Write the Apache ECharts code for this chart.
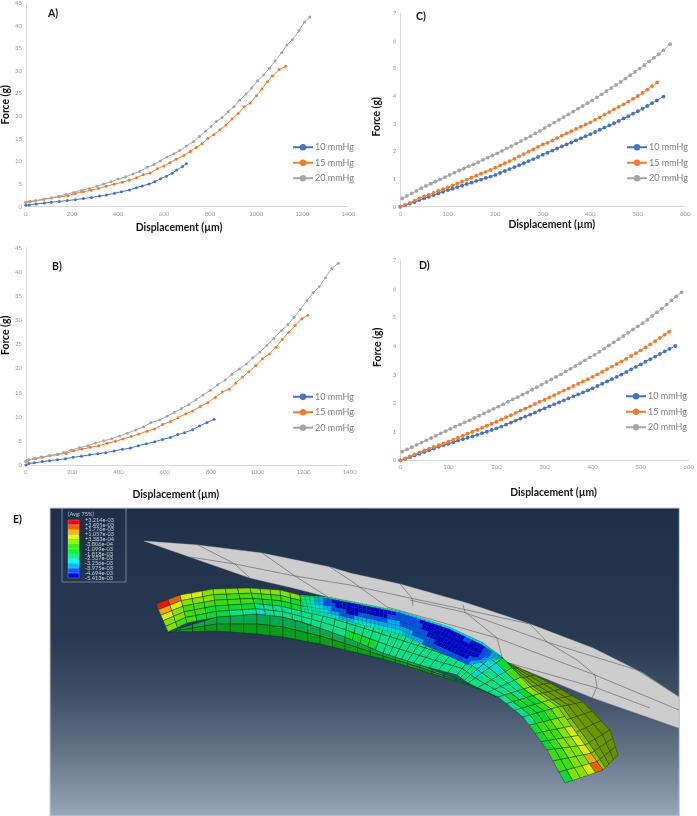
<!DOCTYPE html>
<html><head><meta charset="utf-8">
<style>html,body{margin:0;padding:0;background:#fff}#c{width:697px;height:816px}</style>
<script src="https://cdn.jsdelivr.net/npm/echarts@6/dist/echarts.min.js"></script>
</head><body><div id="c"></div>
<script>
const seriesNames=['10 mmHg','15 mmHg','20 mmHg'];
const seriesColors=['#4472C4','#ED7D31','#A5A5A5'];
const panelLabels=['A)','B)','C)','D)','E)'];
const xName='Displacement (µm)', yName='Force (g)';

const a10=[[0,.3],[15,.4],[45,.6],[80,.8],[110,1],[145,1.15],[180,1.35],[215,1.55],[250,1.8],[285,2.05],[320,2.35],[350,2.6],[385,2.95],[415,3.3],[450,3.7],[480,4.2],[505,4.6],[535,5.0],[560,5.5],[585,6.2],[610,6.75],[635,7.4],[655,8.1],[680,8.9],[697,9.5]];
const a15=[[0,1],[20,1.15],[42,1.3],[78,1.7],[111,1.9],[145,2.2],[183,2.4],[214,2.9],[250,3.3],[284,3.65],[315,4],[348,4.5],[384,5],[419,5.4],[449,5.85],[481,6.4],[510,7.1],[540,7.45],[571,8.4],[599,9],[625,9.7],[653,10.5],[686,11.3],[714,12.2],[740,13.1],[765,13.9],[790,15.05],[816,15.9],[843,17],[869,18.05],[895,19.4],[922,20.6],[948,22.1],[974,22.9],[1001,24.5],[1025,26],[1049,27.6],[1071,28.9],[1100,30.3],[1128,31]];
const a20=[[0,.95],[13,1.1],[42,1.3],[78,1.6],[111,2],[142,2.3],[174,2.7],[207,3.15],[240,3.6],[275,4],[308,4.5],[337,5],[370,5.5],[401,6.1],[433,6.6],[465,7.2],[494,7.8],[527,8.7],[557,9.3],[584,10.1],[613,11],[643,11.7],[668,12.4],[697,13.4],[728,14.4],[754,15.5],[780,16.7],[804,17.7],[827,18.8],[852,19.7],[878,21],[904,22.1],[928,23.5],[956,24.9],[980,26.2],[1006,27.8],[1032,29.1],[1058,30.6],[1082,32.2],[1110,34],[1133,35.7],[1157,36.9],[1186,38.9],[1210,40.8],[1233,41.9]];

const b10=[[0,0],[13,.3],[37,.45],[71,.7],[102,.9],[137,1.1],[171,1.3],[204,1.6],[240,1.8],[276,2.1],[311,2.35],[345,2.55],[381,2.9],[417,3.25],[452,3.5],[486,4],[521,4.4],[557,4.8],[591,5.3],[625,5.7],[656,6.3],[686,6.7],[721,7.3],[751,8.1],[783,8.8],[814,9.5]];
const b15=[[0,.7],[3,.9],[13,1.1],[42,1.3],[71,1.6],[104,1.9],[138,2.2],[174,2.4],[207,2.95],[243,3.3],[279,3.65],[315,4],[351,4.5],[387,4.9],[420,5.4],[455,5.9],[488,6.4],[524,7],[557,7.45],[591,8.4],[625,9],[658,9.8],[691,10.6],[721,11.2],[754,12.1],[787,12.9],[819,14],[849,15.1],[879,15.7],[908,17],[937,18.2],[964,19.3],[994,20.6],[1023,22],[1052,23],[1081,24.4],[1108,26],[1137,27.5],[1164,28.9],[1193,30.3],[1219,31]];
const b20=[[0,.7],[9,1],[35,1.3],[66,1.65],[102,1.95],[135,2.2],[164,2.6],[196,3.1],[232,3.6],[268,4],[301,4.55],[337,5],[371,5.45],[406,6],[439,6.6],[475,7.25],[509,7.9],[541,8.8],[578,9.3],[610,10.1],[642,10.9],[673,11.7],[704,12.5],[735,13.5],[766,14.5],[799,15.5],[829,16.6],[862,17.6],[891,18.8],[922,19.9],[953,20.9],[981,22.2],[1012,23.4],[1042,24.8],[1072,26.2],[1104,27.8],[1133,29.1],[1160,30.6],[1186,32.2],[1215,34],[1242,35.7],[1268,36.9],[1295,38.8],[1323,40.7],[1351,41.8]];

const c10=[[0,0],[10,.05],[20,.11],[30,.17],[40,.24],[50,.3],[60,.36],[70,.42],[80,.48],[90,.54],[100,.6],[110,.65],[120,.71],[130,.76],[140,.82],[150,.87],[160,.93],[170,.98],[180,1.04],[190,1.09],[200,1.15],[210,1.22],[220,1.29],[230,1.36],[240,1.43],[250,1.5],[260,1.57],[270,1.65],[280,1.72],[290,1.8],[300,1.88],[310,1.95],[320,2.03],[330,2.1],[340,2.18],[350,2.25],[360,2.32],[370,2.4],[380,2.47],[390,2.55],[400,2.62],[410,2.7],[420,2.78],[430,2.86],[440,2.94],[450,3.02],[460,3.1],[470,3.19],[480,3.27],[490,3.36],[500,3.45],[510,3.54],[520,3.64],[530,3.74],[540,3.84],[554,3.98]];
const c15=[[0,0],[10,.07],[20,.14],[30,.22],[40,.3],[50,.37],[60,.43],[70,.5],[80,.57],[90,.63],[100,.7],[110,.77],[120,.84],[130,.91],[140,.98],[150,1.05],[160,1.12],[170,1.19],[180,1.26],[190,1.33],[200,1.41],[210,1.49],[220,1.57],[230,1.65],[240,1.73],[250,1.82],[260,1.9],[270,1.99],[280,2.07],[290,2.16],[300,2.25],[310,2.31],[320,2.39],[330,2.48],[340,2.57],[350,2.65],[360,2.73],[370,2.81],[380,2.89],[390,2.97],[400,3.05],[410,3.14],[420,3.23],[430,3.33],[440,3.42],[450,3.52],[460,3.61],[470,3.7],[480,3.8],[490,3.9],[500,4],[510,4.11],[520,4.23],[530,4.36],[541,4.49]];
const c20=[[4,.3],[14,.39],[24,.48],[34,.57],[44,.67],[54,.75],[64,.83],[74,.91],[84,.99],[94,1.07],[104,1.15],[114,1.23],[124,1.31],[134,1.38],[144,1.46],[154,1.53],[164,1.61],[174,1.69],[184,1.77],[194,1.85],[204,1.93],[214,2.02],[224,2.11],[234,2.19],[244,2.28],[254,2.37],[264,2.46],[274,2.55],[284,2.65],[294,2.74],[304,2.84],[314,2.94],[324,3.04],[334,3.14],[344,3.24],[354,3.34],[364,3.44],[374,3.54],[384,3.64],[394,3.74],[404,3.84],[414,3.95],[424,4.06],[434,4.18],[444,4.29],[454,4.4],[464,4.51],[474,4.63],[484,4.75],[494,4.87],[504,4.99],[514,5.12],[524,5.25],[534,5.38],[544,5.51],[554,5.65],[568,5.87]];

const d10=[[0,0],[10,.05],[20,.11],[30,.17],[40,.23],[50,.29],[60,.35],[70,.41],[80,.47],[90,.53],[100,.58],[110,.63],[120,.69],[130,.74],[140,.79],[150,.84],[160,.89],[170,.95],[180,1],[190,1.06],[200,1.12],[210,1.18],[220,1.25],[230,1.32],[240,1.39],[250,1.46],[260,1.53],[270,1.6],[280,1.67],[290,1.75],[300,1.82],[310,1.89],[320,1.96],[330,2.03],[340,2.1],[350,2.17],[360,2.24],[370,2.31],[380,2.38],[390,2.45],[400,2.52],[410,2.6],[420,2.68],[430,2.76],[440,2.84],[450,2.92],[460,3],[470,3.09],[480,3.18],[490,3.27],[500,3.36],[510,3.45],[520,3.54],[530,3.63],[540,3.72],[550,3.81],[560,3.9],[572,4]];
const d15=[[0,0],[10,.07],[20,.14],[30,.21],[40,.28],[50,.35],[60,.41],[70,.47],[80,.53],[90,.59],[100,.65],[110,.72],[120,.79],[130,.86],[140,.93],[150,1],[160,1.07],[170,1.14],[180,1.21],[190,1.28],[200,1.35],[210,1.43],[220,1.51],[230,1.58],[240,1.66],[250,1.74],[260,1.81],[270,1.89],[280,1.97],[290,2.05],[300,2.12],[310,2.2],[320,2.28],[330,2.36],[340,2.44],[350,2.52],[360,2.6],[370,2.68],[380,2.76],[390,2.84],[400,2.92],[410,3.01],[420,3.1],[430,3.19],[440,3.28],[450,3.37],[460,3.46],[470,3.55],[480,3.65],[490,3.75],[500,3.85],[510,3.95],[520,4.06],[530,4.17],[540,4.28],[550,4.4],[559,4.5]];
const d20=[[4,.3],[14,.38],[24,.46],[34,.54],[44,.62],[54,.7],[64,.78],[74,.86],[84,.94],[94,1.02],[104,1.1],[114,1.18],[124,1.25],[134,1.33],[144,1.4],[154,1.48],[164,1.56],[174,1.64],[184,1.72],[194,1.8],[204,1.88],[214,1.96],[224,2.05],[234,2.13],[244,2.21],[254,2.3],[264,2.38],[274,2.47],[284,2.56],[294,2.65],[304,2.74],[314,2.83],[324,2.92],[334,3.01],[344,3.11],[354,3.2],[364,3.3],[374,3.4],[384,3.5],[394,3.6],[404,3.69],[414,3.8],[424,3.91],[434,4.02],[444,4.13],[454,4.24],[464,4.35],[474,4.46],[484,4.58],[494,4.69],[504,4.8],[514,4.92],[524,5.05],[534,5.18],[544,5.31],[554,5.45],[564,5.6],[574,5.74],[585,5.88]];

/* FE contour legend */
const contourLabels=['+3.214e-03','+2.495e-03','+1.776e-03','+1.057e-03','+3.383e-04','-3.806e-04','-1.099e-03','-1.818e-03','-2.537e-03','-3.256e-03','-3.975e-03','-4.694e-03','-5.413e-03'];
const contourColors=['#ff0000','#ff5d00','#ffb900','#e8ff00','#8bff00','#2eff00','#00ff2e','#00ff8b','#00ffe8','#00b9ff','#005dff','#0000ff'];
const contourKey='ROYylgGsckBN';
const meshColors=['#ee1800','#f06000','#f0a800','#dcee00','#88e000','#40dc10','#10da30','#0ce088','#06dcd0','#0aa8ee','#0a50e8','#0000cc'];

/* FE model outlines, in frame coordinates */
const plateOutline=[[144,541],[198,545],[262,553],[330,567],[350,573],[400,584],[467,603],[530,624],[593,648],[643,673],[679,697],[679,728],[593,698],[503,661],[483,643],[450,628],[400,612],[350,602],[328,597],[293,588],[250,578]];
const plateLines=[
 [[190,557],[235,564],[295,576],[350,585],[410,598],[467,610],[530,624]],
 [[410,600],[463,612],[550,643],[637,670],[677,695]],
 [[387,607],[497,638],[595,675],[679,710]],
 [[498,660],[597,688],[650,708]],
 [[198,545],[235,564],[250,578]],
 [[262,553],[295,576],[328,597]],
 [[330,567],[350,580],[387,607]],
 [[400,584],[412,598],[413,606]],
 [[463,605],[465,612],[497,638],[502,657],[498,663]],
 [[530,624],[547,642],[577,660],[595,675],[597,687],[592,698]]
];
const faceEdges=[[[156,604],[168,632]],[[180,595],[187,623]],[[213,589],[217,617]],[[250,588],[257,614]],[[280,590],[283,617]],[[300,595],[302,622]],[[328,598],[320,628]],[[350,602],[345,637]],[[400,612],[383,653]],[[450,628],[420,665]],[[483,643],[457,675]],[[503,658],[468,683]],[[530,687],[498,697]],[[558,707],[523,717]],[[585,745],[547,750]],[[603,770],[565,783]]];
const faceColumns=[2,3,3,3,2,2,2,5,6,4,3,3,3,4,3];
const faceRows=[0,.2,.4,.6,.8,1];
const faceLevels=[
 'ROyylllllllllggGsccccccccccckkkcccsGgllllllyyyYOR',
 'YylllgggggggGGsscsccsssssssssccckkccssGGgglllllyy',
 'ylggggggGGGGGssssssssssssssssssccccssssGGGgglllll',
 'llggGGGGsssssssssssssssssssssssssscsssGGGGgggggll',
 'lggGGGsscssssssssGGGGsssssssssssssssssssssGGGggGG'
];
const crescentEdges=[[[300,595],[305,612]],[[328,597],[328,617]],[[350,601],[350,622]],[[400,611],[400,634]],[[450,627],[433,649]],[[483,643],[468,665]],[[503,658],[503,658]]];
const crescentColumns=[6,6,12,12,10,6];
const crescentRows=[0,.08,.25,.45,.65,.82,1];
const crescentLevels=[
 'GGGGsssssssssssssssssssscccccccccccccccccccccccssssG',
 'ssckkBBNNNNNNNNNNNNNNNNBBBBBBNNNNNNNNNNNNBBNNNNBBkks',
 'ssckkBBBNNNNNNNNNNNNNBBBBBBBBBNNNNNNNNNNNNNNNNNBBkkc',
 'ssccckkBBBBNNNBBBBBBBkkkBBBBBBBBNNNNNNNNNNNNNNNBBkkc',
 'sssccckkkBBBBkkkkkkkkkkkkkkkBBBBBBBNNNNNNNNNNBBBkkcc',
 'ssssccccckkkkcccccccccccckkkkkkkBBBBBBBBBBBBBBkkkccc'
];
const backEdges=[[[503,660],[503,660]],[[530,687],[550,683]],[[558,707],[583,702]],[[585,745],[610,730]],[[603,770],[618,755]]];
const backColumns=[3,3,3,3];
const backRows=[0,.16,.4,.7,1];
const backShades=['#88c400','#6f9c00','#6a9600','#678f00'];
const underEdges=[[[168,632],[168,632]],[[217,617],[217,631]],[[257,614],[257,634]],[[283,617],[283,637]],[[320,628],[320,644]],[[345,637],[345,650]],[[383,653],[383,659]],[[420,665],[420,670]],[[468,683],[468,685]],[[498,697],[498,697]]];
const underColumns=[4,3,2,3,2,3,3,4,3];
const underRows=[0,.5,1];
const underShades=['#0aa84c','#0a9c1a'];

const LAT='Lato, "Open Sans", sans-serif';
const levelColor=c=>meshColors[contourKey.indexOf(c)]||'#0ce088';
const mix=(p,q,t)=>[p[0]+(q[0]-p[0])*t,p[1]+(q[1]-p[1])*t];
function sampleEdges(edges,cols){
  const out=[];
  cols.forEach((n,s)=>{
    for(let i=0;i<n;i++){const t=i/n;out.push([mix(edges[s][0],edges[s+1][0],t),mix(edges[s][1],edges[s+1][1],t)]);}
  });
  out.push(edges[edges.length-1]);
  return out;
}
const meshShapes=[];
function addMesh(edges,cols,rows,colorAt,stroke,lw){
  const e=sampleEdges(edges,cols);
  for(let j=0;j<rows.length-1;j++)for(let i=0;i<e.length-1;i++){
    meshShapes.push({kind:'polygon',points:[mix(e[i][0],e[i][1],rows[j]),mix(e[i+1][0],e[i+1][1],rows[j]),mix(e[i+1][0],e[i+1][1],rows[j+1]),mix(e[i][0],e[i][1],rows[j+1])],fill:colorAt(j,i),stroke:stroke,lw:lw});
  }
}
meshShapes.push({kind:'polygon',points:plateOutline,fill:'#cdcdcd',stroke:'#b0b0b0',lw:.4});
plateLines.forEach(l=>meshShapes.push({kind:'polyline',points:l,stroke:'#555b60',lw:.6}));
addMesh(backEdges,backColumns,backRows,(j)=>backShades[j],'rgba(30,60,0,.75)',.6);
addMesh(underEdges,underColumns,underRows,(j)=>underShades[j],'rgba(0,50,20,.8)',.6);
addMesh(faceEdges,faceColumns,faceRows,(j,i)=>levelColor(faceLevels[j][i]),'rgba(0,50,30,.7)',.6);
addMesh(crescentEdges,crescentColumns,crescentRows,(j,i)=>levelColor(crescentLevels[j][i]),'rgba(0,30,60,.3)',.4);

/* contour legend box */
const boxX=[62,126],boxY=[508,582],barX=[68,79],barTop=520,barStep=4.83;
meshShapes.push({kind:'polyline',points:[[boxX[0],boxY[0]],[boxX[0],boxY[1]],[boxX[1],boxY[1]],[boxX[1],boxY[0]]],stroke:'#9aa6b4',lw:.7});
contourColors.forEach((col,i)=>meshShapes.push({kind:'polygon',points:[[barX[0],barTop+i*barStep],[barX[1],barTop+i*barStep],[barX[1],barTop+(i+1)*barStep],[barX[0],barTop+(i+1)*barStep]],fill:col,stroke:'#c9d2dc',lw:.3}));
contourLabels.forEach((t,i)=>meshShapes.push({kind:'text',at:[85,barTop+i*barStep],text:t}));
meshShapes.push({kind:'text',at:[68,514],text:'(Avg: 75%)'});

const frameX=[50,679.3],frameY=[508,816];

function renderShape(params,api){
  const s=meshShapes[params.dataIndex];
  if(s.kind==='text'){const p=api.coord(s.at);return{type:'text',style:{text:s.text,x:p[0],y:p[1],fill:'#c6cfda',font:'5.6px '+LAT,textVerticalAlign:'middle'}};}
  const pts=s.points.map(p=>api.coord(p));
  if(s.kind==='polyline')return{type:'polyline',shape:{points:pts},style:{stroke:s.stroke,lineWidth:s.lw,fill:null}};
  return{type:'polygon',shape:{points:pts},style:{fill:s.fill,stroke:s.stroke,lineWidth:s.lw}};
}
function renderFrame(params,api){
  const a=api.coord([frameX[0],frameY[0]]),b=api.coord([frameX[1],frameY[1]]);
  return{type:'rect',shape:{x:a[0],y:a[1],width:b[0]-a[0],height:b[1]-a[1]},style:{
    fill:new echarts.graphic.LinearGradient(0,0,0,1,[{offset:0,color:'#1e2f48'},{offset:.42,color:'#283a51'},{offset:.62,color:'#3f5268'},{offset:.8,color:'#647789'},{offset:1,color:'#98a7ba'}]),
    stroke:'#c5ccd4',lineWidth:1}};
}

const panels=[
 {grid:{left:23.7,top:1.5,width:324.6,height:205.2},xMax:1400,xStep:200,yMax:45,yStep:5,data:[a10,a15,a20],sym:3,leg:[292,141],label:[48,8],xGap:16,xShift:16,yGap:14,yShift:0},
 {grid:{left:25.3,top:247.7,width:324.4,height:217.3},xMax:1400,xStep:200,yMax:45,yStep:5,data:[b10,b15,b20],sym:3,leg:[292,390.5],label:[52,261],xGap:25,xShift:24,yGap:11,yShift:42},
 {grid:{left:400.3,top:13,width:285,height:193.7},xMax:600,xStep:100,yMax:7,yStep:1,data:[c10,c15,c20],sym:3.8,leg:[626,141],label:[416,11],xGap:13,xShift:-18,yGap:19,yShift:-14},
 {grid:{left:400.3,top:260.3,width:292,height:200},xMax:600,xStep:100,yMax:7,yStep:1,data:[d10,d15,d20],sym:3.8,leg:[625,390],label:[419,260],xGap:27,xShift:-18,yGap:18,yShift:26}
];
const axisLine={show:true,lineStyle:{color:'#d9d9d9',width:1}};
const nameStyle={fontFamily:LAT,fontWeight:'bold',fontSize:10.4,color:'#111'};
const grids=[],xAxes=[],yAxes=[],series=[],legends=[],titles=[];
const sidePad=s=>s>0?[0,s,0,0]:(s<0?[0,0,0,-s]:0);
panels.forEach((p,i)=>{
  grids.push(p.grid);
  xAxes.push({gridIndex:i,type:'value',min:0,max:p.xMax,interval:p.xStep,splitLine:{show:false},axisTick:{show:false},axisLine:{...axisLine,onZero:false},
    axisLabel:{fontSize:6,color:'#999999',margin:4,fontFamily:LAT,formatter:v=>String(v)},
    name:xName,nameLocation:'middle',nameGap:p.xGap,
    nameTextStyle:{...nameStyle,padding:sidePad(p.xShift)}});
  yAxes.push({gridIndex:i,type:'value',min:0,max:p.yMax,interval:p.yStep,splitLine:{show:false},axisTick:{show:false},axisLine:{...axisLine,onZero:false},
    axisLabel:{fontSize:6,color:'#999999',margin:4,fontFamily:LAT},
    name:yName,nameLocation:'middle',nameGap:p.yGap,
    nameTextStyle:{...nameStyle,padding:sidePad(-p.yShift)}});
  p.data.forEach((d,k)=>series.push({type:'line',name:seriesNames[k],xAxisIndex:i,yAxisIndex:i,data:d,symbol:'circle',symbolSize:p.sym,showSymbol:true,
    lineStyle:{color:seriesColors[k],width:1},itemStyle:{color:seriesColors[k]},animation:false,silent:true,clip:false,z:2+k}));
  legends.push({left:p.leg[0],top:p.leg[1],padding:0,orient:'vertical',itemWidth:20,itemHeight:8,itemGap:3,data:seriesNames,selectedMode:false,
    textStyle:{fontFamily:LAT,fontSize:9,color:'#7f7f7f',lineHeight:12.5,padding:[0,0,0,-3]},lineStyle:{width:2}});
  titles.push({text:panelLabels[i],left:p.label[0],top:p.label[1],padding:0,textStyle:{fontFamily:LAT,fontWeight:'bold',fontSize:10.5,color:'#111'}});
});
titles.push({text:panelLabels[4],left:13,top:514,padding:0,textStyle:{fontFamily:LAT,fontWeight:'bold',fontSize:10.5,color:'#111'}});
grids.push({left:frameX[0],top:frameY[0],width:frameX[1]-frameX[0],height:frameY[1]-frameY[0]});
xAxes.push({gridIndex:4,type:'value',min:frameX[0],max:frameX[1],show:false});
yAxes.push({gridIndex:4,type:'value',min:frameY[0],max:frameY[1],inverse:true,show:false});
series.push({type:'custom',xAxisIndex:4,yAxisIndex:4,data:[[0,0]],renderItem:renderFrame,animation:false,silent:true,clip:false,z:1});
series.push({type:'custom',xAxisIndex:4,yAxisIndex:4,data:meshShapes.map((s,i)=>[i,0]),renderItem:renderShape,animation:false,silent:true,clip:false,z:2,encode:{x:0}});

const chart=echarts.init(document.getElementById('c'),null,{renderer:'canvas'});
chart.setOption({backgroundColor:'#fff',animation:false,title:titles,grid:grids,xAxis:xAxes,yAxis:yAxes,legend:legends,series:series});
</script></body></html>
